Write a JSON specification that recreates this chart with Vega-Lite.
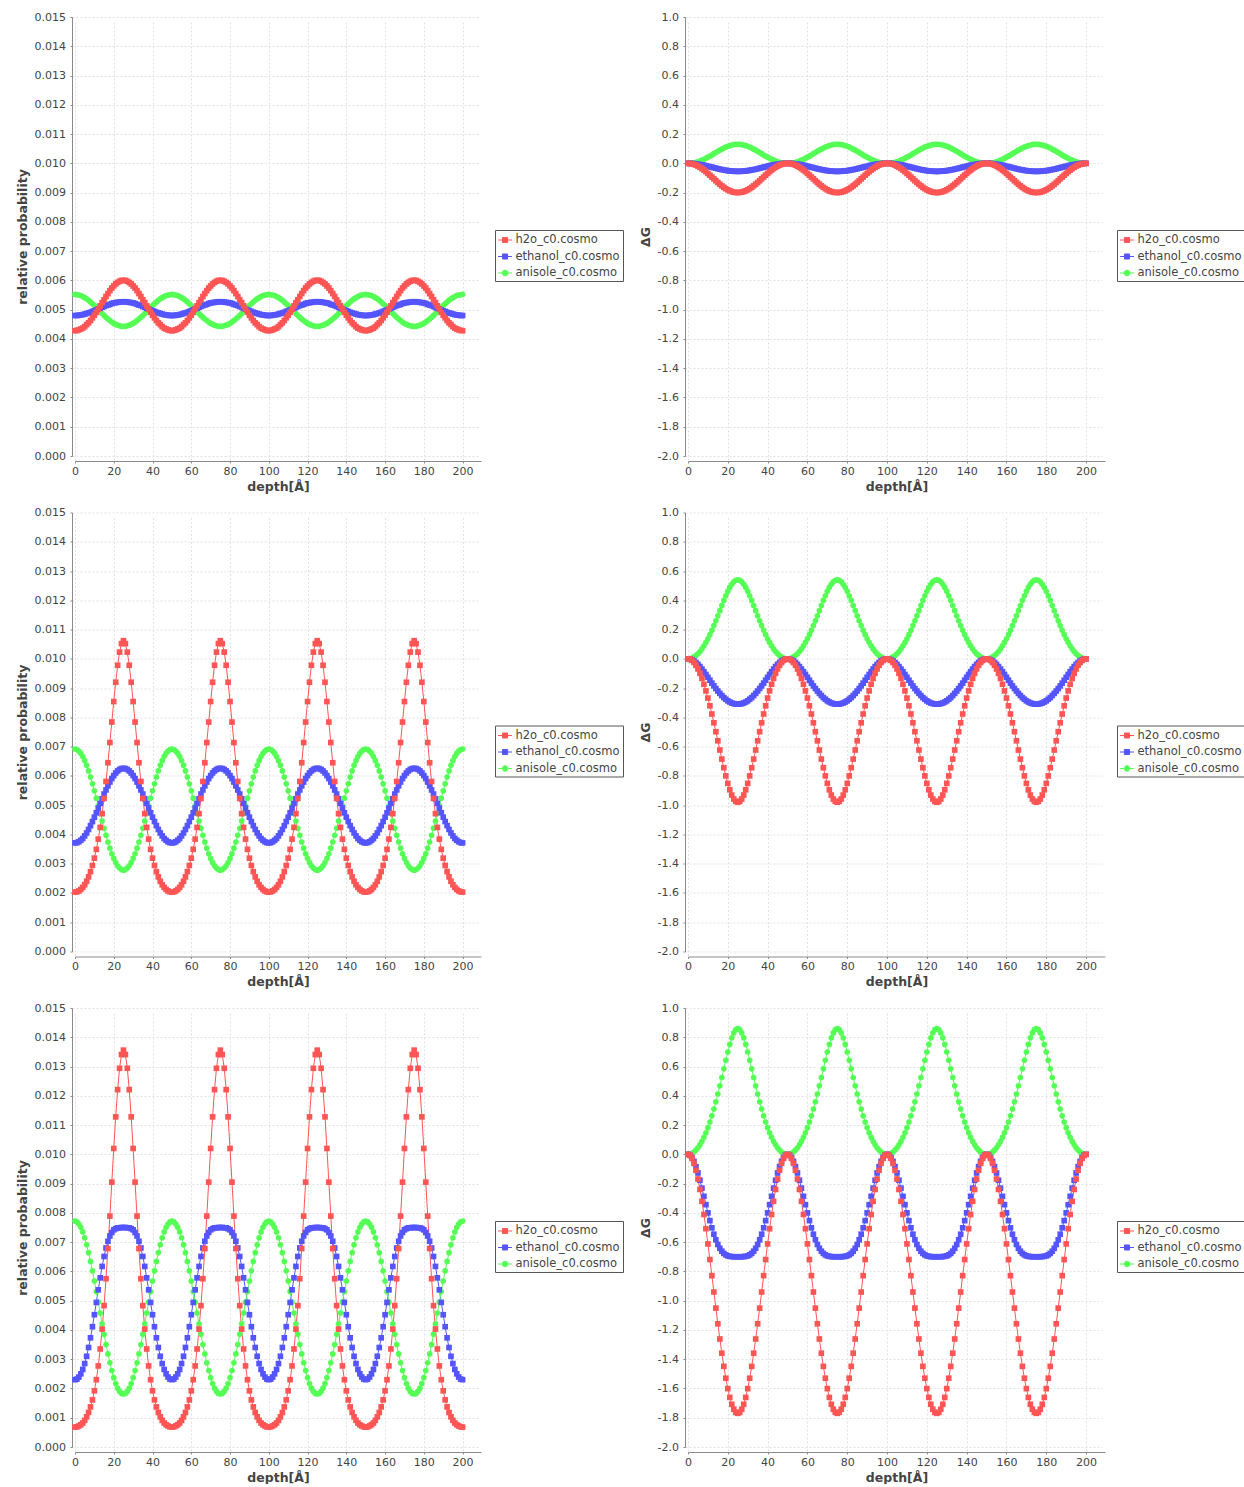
{
"$schema":"https://vega.github.io/schema/vega-lite/v6.json",
"background":"#ffffff",
"padding":{"left":16,"top":11,"right":0,"bottom":0},
"autosize":{"type":"pad"},
"bounds":"flush",
"columns":2,
"spacing":{"row":56.5,"column":207},
"resolve":{"scale":{"color":"independent"},"legend":{"color":"independent"}},
"config":{
"view":{"stroke":null},
"font":"DejaVu Sans",
"axis":{"tickSize":2,"domainColor":"#8a8a8a","tickColor":"#8a8a8a","labelColor":"#444444","labelFont":"DejaVu Sans","labelFontSize":11,"titleFont":"DejaVu Sans","titleFontSize":12.5,"titleFontWeight":"bold","titleColor":"#444444","gridColor":"#e2e2e2","gridDash":[2,2],"gridWidth":1,"labelOverlap":false,"labelFlush":false,"domainWidth":1,"tickWidth":1},
"axisX":{"offset":5,"labelPadding":2,"titlePadding":4},
"axisY":{"offset":3,"labelPadding":4.5,"titlePadding":5},
"legend":{"orient":"none","padding":2.5,"rowPadding":3.5,"symbolSize":196,"labelOffset":3,"labelFont":"DejaVu Sans","labelFontSize":11.5,"labelColor":"#444444","strokeColor":"#555555","fillColor":"#ffffff","labelLimit":400,"symbolStrokeWidth":1}
},
"datasets":{"d":[
{"x":0,"a1":0.00552,"b1":0.0048,"c1":0.00428,"A1":0,"B1":0,"C1":0,"a2":0.00692,"b2":0.00371,"c2":0.00203,"A2":0,"B2":0,"C2":0,"a3":0.00772,"b3":0.0023,"c3":0.00068,"A3":0,"B3":0,"C3":0},
{"x":1,"a1":0.00551,"b1":0.0048,"c1":0.00429,"A1":0,"B1":0,"C1":-0.001,"a2":0.0069,"b2":0.00372,"c2":0.00204,"A2":0.001,"B2":-0.002,"C2":-0.003,"a3":0.00769,"b3":0.00232,"c3":0.00069,"A3":0.002,"B3":-0.006,"C3":-0.007},
{"x":2,"a1":0.0055,"b1":0.00481,"c1":0.00431,"A1":0.002,"B1":-0.001,"C1":-0.003,"a2":0.00685,"b2":0.00375,"c2":0.00207,"A2":0.006,"B2":-0.006,"C2":-0.011,"a3":0.00762,"b3":0.00239,"c3":0.00072,"A3":0.007,"B3":-0.022,"C3":-0.028},
{"x":3,"a1":0.00548,"b1":0.00482,"c1":0.00434,"A1":0.004,"B1":-0.002,"C1":-0.007,"a2":0.00677,"b2":0.0038,"c2":0.00212,"A2":0.013,"B2":-0.014,"C2":-0.025,"a3":0.00751,"b3":0.0025,"c3":0.00076,"A3":0.016,"B3":-0.048,"C3":-0.062},
{"x":4,"a1":0.00545,"b1":0.00483,"c1":0.00437,"A1":0.007,"B1":-0.004,"C1":-0.012,"a2":0.00666,"b2":0.00386,"c2":0.00219,"A2":0.022,"B2":-0.025,"C2":-0.044,"a3":0.00735,"b3":0.00265,"c3":0.00082,"A3":0.029,"B3":-0.084,"C3":-0.109},
{"x":5,"a1":0.00541,"b1":0.00485,"c1":0.00442,"A1":0.011,"B1":-0.006,"C1":-0.019,"a2":0.00652,"b2":0.00395,"c2":0.00228,"A2":0.035,"B2":-0.038,"C2":-0.069,"a3":0.00715,"b3":0.00285,"c3":0.00091,"A3":0.045,"B3":-0.127,"C3":-0.169},
{"x":6,"a1":0.00537,"b1":0.00487,"c1":0.00449,"A1":0.016,"B1":-0.008,"C1":-0.027,"a2":0.00636,"b2":0.00405,"c2":0.0024,"A2":0.05,"B2":-0.053,"C2":-0.099,"a3":0.00691,"b3":0.0031,"c3":0.00103,"A3":0.065,"B3":-0.177,"C3":-0.24},
{"x":7,"a1":0.00532,"b1":0.00489,"c1":0.00455,"A1":0.022,"B1":-0.01,"C1":-0.036,"a2":0.00617,"b2":0.00417,"c2":0.00255,"A2":0.068,"B2":-0.07,"C2":-0.134,"a3":0.00664,"b3":0.0034,"c3":0.00118,"A3":0.089,"B3":-0.231,"C3":-0.321},
{"x":8,"a1":0.00526,"b1":0.00491,"c1":0.00463,"A1":0.028,"B1":-0.013,"C1":-0.046,"a2":0.00596,"b2":0.0043,"c2":0.00273,"A2":0.089,"B2":-0.088,"C2":-0.174,"a3":0.00634,"b3":0.00373,"c3":0.00137,"A3":0.116,"B3":-0.287,"C3":-0.411},
{"x":9,"a1":0.0052,"b1":0.00494,"c1":0.00472,"A1":0.035,"B1":-0.016,"C1":-0.057,"a2":0.00573,"b2":0.00444,"c2":0.00294,"A2":0.112,"B2":-0.107,"C2":-0.219,"a3":0.00602,"b3":0.00411,"c3":0.00161,"A3":0.147,"B3":-0.344,"C3":-0.508},
{"x":10,"a1":0.00514,"b1":0.00496,"c1":0.00481,"A1":0.042,"B1":-0.02,"C1":-0.069,"a2":0.00549,"b2":0.00459,"c2":0.00319,"A2":0.137,"B2":-0.126,"C2":-0.268,"a3":0.00567,"b3":0.00452,"c3":0.00192,"A3":0.182,"B3":-0.4,"C3":-0.612},
{"x":11,"a1":0.00507,"b1":0.00499,"c1":0.00491,"A1":0.049,"B1":-0.023,"C1":-0.081,"a2":0.00524,"b2":0.00474,"c2":0.00349,"A2":0.165,"B2":-0.146,"C2":-0.321,"a3":0.00531,"b3":0.00494,"c3":0.0023,"A3":0.221,"B3":-0.453,"C3":-0.719},
{"x":12,"a1":0.00501,"b1":0.00502,"c1":0.00502,"A1":0.057,"B1":-0.026,"C1":-0.094,"a2":0.00498,"b2":0.0049,"c2":0.00384,"A2":0.195,"B2":-0.166,"C2":-0.377,"a3":0.00495,"b3":0.00537,"c3":0.00277,"A3":0.263,"B3":-0.502,"C3":-0.829},
{"x":13,"a1":0.00494,"b1":0.00505,"c1":0.00513,"A1":0.066,"B1":-0.03,"C1":-0.106,"a2":0.00472,"b2":0.00506,"c2":0.00424,"A2":0.227,"B2":-0.185,"C2":-0.437,"a3":0.00458,"b3":0.00578,"c3":0.00335,"A3":0.31,"B3":-0.546,"C3":-0.941},
{"x":14,"a1":0.00487,"b1":0.00508,"c1":0.00524,"A1":0.074,"B1":-0.033,"C1":-0.119,"a2":0.00446,"b2":0.00522,"c2":0.00471,"A2":0.26,"B2":-0.203,"C2":-0.498,"a3":0.00421,"b3":0.00617,"c3":0.00403,"A3":0.359,"B3":-0.584,"C3":-1.051},
{"x":15,"a1":0.0048,"b1":0.00511,"c1":0.00534,"A1":0.082,"B1":-0.037,"C1":-0.131,"a2":0.00421,"b2":0.00538,"c2":0.00523,"A2":0.294,"B2":-0.22,"C2":-0.56,"a3":0.00385,"b3":0.00651,"c3":0.00483,"A3":0.412,"B3":-0.616,"C3":-1.158},
{"x":16,"a1":0.00474,"b1":0.00514,"c1":0.00545,"A1":0.09,"B1":-0.04,"C1":-0.143,"a2":0.00397,"b2":0.00552,"c2":0.00581,"A2":0.329,"B2":-0.236,"C2":-0.623,"a3":0.0035,"b3":0.0068,"c3":0.00575,"A3":0.468,"B3":-0.642,"C3":-1.262},
{"x":17,"a1":0.00468,"b1":0.00516,"c1":0.00555,"A1":0.097,"B1":-0.043,"C1":-0.154,"a2":0.00374,"b2":0.00566,"c2":0.00645,"A2":0.364,"B2":-0.251,"C2":-0.685,"a3":0.00318,"b3":0.00703,"c3":0.00678,"A3":0.525,"B3":-0.662,"C3":-1.359},
{"x":18,"a1":0.00463,"b1":0.00518,"c1":0.00565,"A1":0.104,"B1":-0.045,"C1":-0.164,"a2":0.00353,"b2":0.00579,"c2":0.00714,"A2":0.399,"B2":-0.265,"C2":-0.744,"a3":0.00288,"b3":0.00721,"c3":0.00789,"A3":0.584,"B3":-0.677,"C3":-1.449},
{"x":19,"a1":0.00458,"b1":0.00521,"c1":0.00574,"A1":0.111,"B1":-0.048,"C1":-0.173,"a2":0.00334,"b2":0.00591,"c2":0.00784,"A2":0.431,"B2":-0.276,"C2":-0.8,"a3":0.00261,"b3":0.00733,"c3":0.00905,"A3":0.643,"B3":-0.687,"C3":-1.53},
{"x":20,"a1":0.00453,"b1":0.00523,"c1":0.00581,"A1":0.116,"B1":-0.05,"C1":-0.181,"a2":0.00318,"b2":0.00601,"c2":0.00854,"A2":0.461,"B2":-0.287,"C2":-0.851,"a3":0.00237,"b3":0.00742,"c3":0.0102,"A3":0.699,"B3":-0.694,"C3":-1.601},
{"x":21,"a1":0.0045,"b1":0.00524,"c1":0.00588,"A1":0.121,"B1":-0.052,"C1":-0.188,"a2":0.00304,"b2":0.0061,"c2":0.0092,"A2":0.488,"B2":-0.295,"C2":-0.895,"a3":0.00217,"b3":0.00746,"c3":0.01128,"A3":0.751,"B3":-0.697,"C3":-1.661},
{"x":22,"a1":0.00447,"b1":0.00525,"c1":0.00593,"A1":0.125,"B1":-0.053,"C1":-0.193,"a2":0.00293,"b2":0.00617,"c2":0.00978,"A2":0.51,"B2":-0.302,"C2":-0.931,"a3":0.00201,"b3":0.00749,"c3":0.01221,"A3":0.796,"B3":-0.699,"C3":-1.708},
{"x":23,"a1":0.00445,"b1":0.00526,"c1":0.00597,"A1":0.128,"B1":-0.054,"C1":-0.197,"a2":0.00285,"b2":0.00622,"c2":0.01023,"A2":0.526,"B2":-0.306,"C2":-0.958,"a3":0.0019,"b3":0.00749,"c3":0.01294,"A3":0.83,"B3":-0.7,"C3":-1.742},
{"x":24,"a1":0.00443,"b1":0.00527,"c1":0.006,"A1":0.13,"B1":-0.055,"C1":-0.199,"a2":0.0028,"b2":0.00625,"c2":0.01052,"A2":0.537,"B2":-0.309,"C2":-0.974,"a3":0.00183,"b3":0.0075,"c3":0.01341,"A3":0.852,"B3":-0.7,"C3":-1.763},
{"x":25,"a1":0.00443,"b1":0.00527,"c1":0.006,"A1":0.13,"B1":-0.055,"C1":-0.2,"a2":0.00278,"b2":0.00626,"c2":0.01062,"A2":0.54,"B2":-0.31,"C2":-0.98,"a3":0.00181,"b3":0.0075,"c3":0.01356,"A3":0.86,"B3":-0.7,"C3":-1.77},
{"x":26,"a1":0.00443,"b1":0.00527,"c1":0.006,"A1":0.13,"B1":-0.055,"C1":-0.199,"a2":0.0028,"b2":0.00625,"c2":0.01052,"A2":0.537,"B2":-0.309,"C2":-0.974,"a3":0.00183,"b3":0.0075,"c3":0.01341,"A3":0.852,"B3":-0.7,"C3":-1.763},
{"x":27,"a1":0.00445,"b1":0.00526,"c1":0.00597,"A1":0.128,"B1":-0.054,"C1":-0.197,"a2":0.00285,"b2":0.00622,"c2":0.01023,"A2":0.526,"B2":-0.306,"C2":-0.958,"a3":0.0019,"b3":0.00749,"c3":0.01294,"A3":0.83,"B3":-0.7,"C3":-1.742},
{"x":28,"a1":0.00447,"b1":0.00525,"c1":0.00593,"A1":0.125,"B1":-0.053,"C1":-0.193,"a2":0.00293,"b2":0.00617,"c2":0.00978,"A2":0.51,"B2":-0.302,"C2":-0.931,"a3":0.00201,"b3":0.00749,"c3":0.01221,"A3":0.796,"B3":-0.699,"C3":-1.708},
{"x":29,"a1":0.0045,"b1":0.00524,"c1":0.00588,"A1":0.121,"B1":-0.052,"C1":-0.188,"a2":0.00304,"b2":0.0061,"c2":0.0092,"A2":0.488,"B2":-0.295,"C2":-0.895,"a3":0.00217,"b3":0.00746,"c3":0.01128,"A3":0.751,"B3":-0.697,"C3":-1.661},
{"x":30,"a1":0.00453,"b1":0.00523,"c1":0.00581,"A1":0.116,"B1":-0.05,"C1":-0.181,"a2":0.00318,"b2":0.00601,"c2":0.00854,"A2":0.461,"B2":-0.287,"C2":-0.851,"a3":0.00237,"b3":0.00742,"c3":0.0102,"A3":0.699,"B3":-0.694,"C3":-1.601},
{"x":31,"a1":0.00458,"b1":0.00521,"c1":0.00574,"A1":0.111,"B1":-0.048,"C1":-0.173,"a2":0.00334,"b2":0.00591,"c2":0.00784,"A2":0.431,"B2":-0.276,"C2":-0.8,"a3":0.00261,"b3":0.00733,"c3":0.00905,"A3":0.643,"B3":-0.687,"C3":-1.53},
{"x":32,"a1":0.00463,"b1":0.00518,"c1":0.00565,"A1":0.104,"B1":-0.045,"C1":-0.164,"a2":0.00353,"b2":0.00579,"c2":0.00714,"A2":0.399,"B2":-0.265,"C2":-0.744,"a3":0.00288,"b3":0.00721,"c3":0.00789,"A3":0.584,"B3":-0.677,"C3":-1.449},
{"x":33,"a1":0.00468,"b1":0.00516,"c1":0.00555,"A1":0.097,"B1":-0.043,"C1":-0.154,"a2":0.00374,"b2":0.00566,"c2":0.00645,"A2":0.364,"B2":-0.251,"C2":-0.685,"a3":0.00318,"b3":0.00703,"c3":0.00678,"A3":0.525,"B3":-0.662,"C3":-1.359},
{"x":34,"a1":0.00474,"b1":0.00514,"c1":0.00545,"A1":0.09,"B1":-0.04,"C1":-0.143,"a2":0.00397,"b2":0.00552,"c2":0.00581,"A2":0.329,"B2":-0.236,"C2":-0.623,"a3":0.0035,"b3":0.0068,"c3":0.00575,"A3":0.468,"B3":-0.642,"C3":-1.262},
{"x":35,"a1":0.0048,"b1":0.00511,"c1":0.00534,"A1":0.082,"B1":-0.037,"C1":-0.131,"a2":0.00421,"b2":0.00538,"c2":0.00523,"A2":0.294,"B2":-0.22,"C2":-0.56,"a3":0.00385,"b3":0.00651,"c3":0.00483,"A3":0.412,"B3":-0.616,"C3":-1.158},
{"x":36,"a1":0.00487,"b1":0.00508,"c1":0.00524,"A1":0.074,"B1":-0.033,"C1":-0.119,"a2":0.00446,"b2":0.00522,"c2":0.00471,"A2":0.26,"B2":-0.203,"C2":-0.498,"a3":0.00421,"b3":0.00617,"c3":0.00403,"A3":0.359,"B3":-0.584,"C3":-1.051},
{"x":37,"a1":0.00494,"b1":0.00505,"c1":0.00513,"A1":0.066,"B1":-0.03,"C1":-0.106,"a2":0.00472,"b2":0.00506,"c2":0.00424,"A2":0.227,"B2":-0.185,"C2":-0.437,"a3":0.00458,"b3":0.00578,"c3":0.00335,"A3":0.31,"B3":-0.546,"C3":-0.941},
{"x":38,"a1":0.00501,"b1":0.00502,"c1":0.00502,"A1":0.057,"B1":-0.026,"C1":-0.094,"a2":0.00498,"b2":0.0049,"c2":0.00384,"A2":0.195,"B2":-0.166,"C2":-0.377,"a3":0.00495,"b3":0.00537,"c3":0.00277,"A3":0.263,"B3":-0.502,"C3":-0.829},
{"x":39,"a1":0.00507,"b1":0.00499,"c1":0.00491,"A1":0.049,"B1":-0.023,"C1":-0.081,"a2":0.00524,"b2":0.00474,"c2":0.00349,"A2":0.165,"B2":-0.146,"C2":-0.321,"a3":0.00531,"b3":0.00494,"c3":0.0023,"A3":0.221,"B3":-0.453,"C3":-0.719},
{"x":40,"a1":0.00514,"b1":0.00496,"c1":0.00481,"A1":0.042,"B1":-0.02,"C1":-0.069,"a2":0.00549,"b2":0.00459,"c2":0.00319,"A2":0.137,"B2":-0.126,"C2":-0.268,"a3":0.00567,"b3":0.00452,"c3":0.00192,"A3":0.182,"B3":-0.4,"C3":-0.612},
{"x":41,"a1":0.0052,"b1":0.00494,"c1":0.00472,"A1":0.035,"B1":-0.016,"C1":-0.057,"a2":0.00573,"b2":0.00444,"c2":0.00294,"A2":0.112,"B2":-0.107,"C2":-0.219,"a3":0.00602,"b3":0.00411,"c3":0.00161,"A3":0.147,"B3":-0.344,"C3":-0.508},
{"x":42,"a1":0.00526,"b1":0.00491,"c1":0.00463,"A1":0.028,"B1":-0.013,"C1":-0.046,"a2":0.00596,"b2":0.0043,"c2":0.00273,"A2":0.089,"B2":-0.088,"C2":-0.174,"a3":0.00634,"b3":0.00373,"c3":0.00137,"A3":0.116,"B3":-0.287,"C3":-0.411},
{"x":43,"a1":0.00532,"b1":0.00489,"c1":0.00455,"A1":0.022,"B1":-0.01,"C1":-0.036,"a2":0.00617,"b2":0.00417,"c2":0.00255,"A2":0.068,"B2":-0.07,"C2":-0.134,"a3":0.00664,"b3":0.0034,"c3":0.00118,"A3":0.089,"B3":-0.231,"C3":-0.321},
{"x":44,"a1":0.00537,"b1":0.00487,"c1":0.00449,"A1":0.016,"B1":-0.008,"C1":-0.027,"a2":0.00636,"b2":0.00405,"c2":0.0024,"A2":0.05,"B2":-0.053,"C2":-0.099,"a3":0.00691,"b3":0.0031,"c3":0.00103,"A3":0.065,"B3":-0.177,"C3":-0.24},
{"x":45,"a1":0.00541,"b1":0.00485,"c1":0.00442,"A1":0.011,"B1":-0.006,"C1":-0.019,"a2":0.00652,"b2":0.00395,"c2":0.00228,"A2":0.035,"B2":-0.038,"C2":-0.069,"a3":0.00715,"b3":0.00285,"c3":0.00091,"A3":0.045,"B3":-0.127,"C3":-0.169},
{"x":46,"a1":0.00545,"b1":0.00483,"c1":0.00437,"A1":0.007,"B1":-0.004,"C1":-0.012,"a2":0.00666,"b2":0.00386,"c2":0.00219,"A2":0.022,"B2":-0.025,"C2":-0.044,"a3":0.00735,"b3":0.00265,"c3":0.00082,"A3":0.029,"B3":-0.084,"C3":-0.109},
{"x":47,"a1":0.00548,"b1":0.00482,"c1":0.00434,"A1":0.004,"B1":-0.002,"C1":-0.007,"a2":0.00677,"b2":0.0038,"c2":0.00212,"A2":0.013,"B2":-0.014,"C2":-0.025,"a3":0.00751,"b3":0.0025,"c3":0.00076,"A3":0.016,"B3":-0.048,"C3":-0.062},
{"x":48,"a1":0.0055,"b1":0.00481,"c1":0.00431,"A1":0.002,"B1":-0.001,"C1":-0.003,"a2":0.00685,"b2":0.00375,"c2":0.00207,"A2":0.006,"B2":-0.006,"C2":-0.011,"a3":0.00762,"b3":0.00239,"c3":0.00072,"A3":0.007,"B3":-0.022,"C3":-0.028},
{"x":49,"a1":0.00551,"b1":0.0048,"c1":0.00429,"A1":0,"B1":0,"C1":-0.001,"a2":0.0069,"b2":0.00372,"c2":0.00204,"A2":0.001,"B2":-0.002,"C2":-0.003,"a3":0.00769,"b3":0.00232,"c3":0.00069,"A3":0.002,"B3":-0.006,"C3":-0.007},
{"x":50,"a1":0.00552,"b1":0.0048,"c1":0.00428,"A1":0,"B1":0,"C1":0,"a2":0.00692,"b2":0.00371,"c2":0.00203,"A2":0,"B2":0,"C2":0,"a3":0.00772,"b3":0.0023,"c3":0.00068,"A3":0,"B3":0,"C3":0},
{"x":51,"a1":0.00551,"b1":0.0048,"c1":0.00429,"A1":0,"B1":0,"C1":-0.001,"a2":0.0069,"b2":0.00372,"c2":0.00204,"A2":0.001,"B2":-0.002,"C2":-0.003,"a3":0.00769,"b3":0.00232,"c3":0.00069,"A3":0.002,"B3":-0.006,"C3":-0.007},
{"x":52,"a1":0.0055,"b1":0.00481,"c1":0.00431,"A1":0.002,"B1":-0.001,"C1":-0.003,"a2":0.00685,"b2":0.00375,"c2":0.00207,"A2":0.006,"B2":-0.006,"C2":-0.011,"a3":0.00762,"b3":0.00239,"c3":0.00072,"A3":0.007,"B3":-0.022,"C3":-0.028},
{"x":53,"a1":0.00548,"b1":0.00482,"c1":0.00434,"A1":0.004,"B1":-0.002,"C1":-0.007,"a2":0.00677,"b2":0.0038,"c2":0.00212,"A2":0.013,"B2":-0.014,"C2":-0.025,"a3":0.00751,"b3":0.0025,"c3":0.00076,"A3":0.016,"B3":-0.048,"C3":-0.062},
{"x":54,"a1":0.00545,"b1":0.00483,"c1":0.00437,"A1":0.007,"B1":-0.004,"C1":-0.012,"a2":0.00666,"b2":0.00386,"c2":0.00219,"A2":0.022,"B2":-0.025,"C2":-0.044,"a3":0.00735,"b3":0.00265,"c3":0.00082,"A3":0.029,"B3":-0.084,"C3":-0.109},
{"x":55,"a1":0.00541,"b1":0.00485,"c1":0.00442,"A1":0.011,"B1":-0.006,"C1":-0.019,"a2":0.00652,"b2":0.00395,"c2":0.00228,"A2":0.035,"B2":-0.038,"C2":-0.069,"a3":0.00715,"b3":0.00285,"c3":0.00091,"A3":0.045,"B3":-0.127,"C3":-0.169},
{"x":56,"a1":0.00537,"b1":0.00487,"c1":0.00449,"A1":0.016,"B1":-0.008,"C1":-0.027,"a2":0.00636,"b2":0.00405,"c2":0.0024,"A2":0.05,"B2":-0.053,"C2":-0.099,"a3":0.00691,"b3":0.0031,"c3":0.00103,"A3":0.065,"B3":-0.177,"C3":-0.24},
{"x":57,"a1":0.00532,"b1":0.00489,"c1":0.00455,"A1":0.022,"B1":-0.01,"C1":-0.036,"a2":0.00617,"b2":0.00417,"c2":0.00255,"A2":0.068,"B2":-0.07,"C2":-0.134,"a3":0.00664,"b3":0.0034,"c3":0.00118,"A3":0.089,"B3":-0.231,"C3":-0.321},
{"x":58,"a1":0.00526,"b1":0.00491,"c1":0.00463,"A1":0.028,"B1":-0.013,"C1":-0.046,"a2":0.00596,"b2":0.0043,"c2":0.00273,"A2":0.089,"B2":-0.088,"C2":-0.174,"a3":0.00634,"b3":0.00373,"c3":0.00137,"A3":0.116,"B3":-0.287,"C3":-0.411},
{"x":59,"a1":0.0052,"b1":0.00494,"c1":0.00472,"A1":0.035,"B1":-0.016,"C1":-0.057,"a2":0.00573,"b2":0.00444,"c2":0.00294,"A2":0.112,"B2":-0.107,"C2":-0.219,"a3":0.00602,"b3":0.00411,"c3":0.00161,"A3":0.147,"B3":-0.344,"C3":-0.508},
{"x":60,"a1":0.00514,"b1":0.00496,"c1":0.00481,"A1":0.042,"B1":-0.02,"C1":-0.069,"a2":0.00549,"b2":0.00459,"c2":0.00319,"A2":0.137,"B2":-0.126,"C2":-0.268,"a3":0.00567,"b3":0.00452,"c3":0.00192,"A3":0.182,"B3":-0.4,"C3":-0.612},
{"x":61,"a1":0.00507,"b1":0.00499,"c1":0.00491,"A1":0.049,"B1":-0.023,"C1":-0.081,"a2":0.00524,"b2":0.00474,"c2":0.00349,"A2":0.165,"B2":-0.146,"C2":-0.321,"a3":0.00531,"b3":0.00494,"c3":0.0023,"A3":0.221,"B3":-0.453,"C3":-0.719},
{"x":62,"a1":0.00501,"b1":0.00502,"c1":0.00502,"A1":0.057,"B1":-0.026,"C1":-0.094,"a2":0.00498,"b2":0.0049,"c2":0.00384,"A2":0.195,"B2":-0.166,"C2":-0.377,"a3":0.00495,"b3":0.00537,"c3":0.00277,"A3":0.263,"B3":-0.502,"C3":-0.829},
{"x":63,"a1":0.00494,"b1":0.00505,"c1":0.00513,"A1":0.066,"B1":-0.03,"C1":-0.106,"a2":0.00472,"b2":0.00506,"c2":0.00424,"A2":0.227,"B2":-0.185,"C2":-0.437,"a3":0.00458,"b3":0.00578,"c3":0.00335,"A3":0.31,"B3":-0.546,"C3":-0.941},
{"x":64,"a1":0.00487,"b1":0.00508,"c1":0.00524,"A1":0.074,"B1":-0.033,"C1":-0.119,"a2":0.00446,"b2":0.00522,"c2":0.00471,"A2":0.26,"B2":-0.203,"C2":-0.498,"a3":0.00421,"b3":0.00617,"c3":0.00403,"A3":0.359,"B3":-0.584,"C3":-1.051},
{"x":65,"a1":0.0048,"b1":0.00511,"c1":0.00534,"A1":0.082,"B1":-0.037,"C1":-0.131,"a2":0.00421,"b2":0.00538,"c2":0.00523,"A2":0.294,"B2":-0.22,"C2":-0.56,"a3":0.00385,"b3":0.00651,"c3":0.00483,"A3":0.412,"B3":-0.616,"C3":-1.158},
{"x":66,"a1":0.00474,"b1":0.00514,"c1":0.00545,"A1":0.09,"B1":-0.04,"C1":-0.143,"a2":0.00397,"b2":0.00552,"c2":0.00581,"A2":0.329,"B2":-0.236,"C2":-0.623,"a3":0.0035,"b3":0.0068,"c3":0.00575,"A3":0.468,"B3":-0.642,"C3":-1.262},
{"x":67,"a1":0.00468,"b1":0.00516,"c1":0.00555,"A1":0.097,"B1":-0.043,"C1":-0.154,"a2":0.00374,"b2":0.00566,"c2":0.00645,"A2":0.364,"B2":-0.251,"C2":-0.685,"a3":0.00318,"b3":0.00703,"c3":0.00678,"A3":0.525,"B3":-0.662,"C3":-1.359},
{"x":68,"a1":0.00463,"b1":0.00518,"c1":0.00565,"A1":0.104,"B1":-0.045,"C1":-0.164,"a2":0.00353,"b2":0.00579,"c2":0.00714,"A2":0.399,"B2":-0.265,"C2":-0.744,"a3":0.00288,"b3":0.00721,"c3":0.00789,"A3":0.584,"B3":-0.677,"C3":-1.449},
{"x":69,"a1":0.00458,"b1":0.00521,"c1":0.00574,"A1":0.111,"B1":-0.048,"C1":-0.173,"a2":0.00334,"b2":0.00591,"c2":0.00784,"A2":0.431,"B2":-0.276,"C2":-0.8,"a3":0.00261,"b3":0.00733,"c3":0.00905,"A3":0.643,"B3":-0.687,"C3":-1.53},
{"x":70,"a1":0.00453,"b1":0.00523,"c1":0.00581,"A1":0.116,"B1":-0.05,"C1":-0.181,"a2":0.00318,"b2":0.00601,"c2":0.00854,"A2":0.461,"B2":-0.287,"C2":-0.851,"a3":0.00237,"b3":0.00742,"c3":0.0102,"A3":0.699,"B3":-0.694,"C3":-1.601},
{"x":71,"a1":0.0045,"b1":0.00524,"c1":0.00588,"A1":0.121,"B1":-0.052,"C1":-0.188,"a2":0.00304,"b2":0.0061,"c2":0.0092,"A2":0.488,"B2":-0.295,"C2":-0.895,"a3":0.00217,"b3":0.00746,"c3":0.01128,"A3":0.751,"B3":-0.697,"C3":-1.661},
{"x":72,"a1":0.00447,"b1":0.00525,"c1":0.00593,"A1":0.125,"B1":-0.053,"C1":-0.193,"a2":0.00293,"b2":0.00617,"c2":0.00978,"A2":0.51,"B2":-0.302,"C2":-0.931,"a3":0.00201,"b3":0.00749,"c3":0.01221,"A3":0.796,"B3":-0.699,"C3":-1.708},
{"x":73,"a1":0.00445,"b1":0.00526,"c1":0.00597,"A1":0.128,"B1":-0.054,"C1":-0.197,"a2":0.00285,"b2":0.00622,"c2":0.01023,"A2":0.526,"B2":-0.306,"C2":-0.958,"a3":0.0019,"b3":0.00749,"c3":0.01294,"A3":0.83,"B3":-0.7,"C3":-1.742},
{"x":74,"a1":0.00443,"b1":0.00527,"c1":0.006,"A1":0.13,"B1":-0.055,"C1":-0.199,"a2":0.0028,"b2":0.00625,"c2":0.01052,"A2":0.537,"B2":-0.309,"C2":-0.974,"a3":0.00183,"b3":0.0075,"c3":0.01341,"A3":0.852,"B3":-0.7,"C3":-1.763},
{"x":75,"a1":0.00443,"b1":0.00527,"c1":0.006,"A1":0.13,"B1":-0.055,"C1":-0.2,"a2":0.00278,"b2":0.00626,"c2":0.01062,"A2":0.54,"B2":-0.31,"C2":-0.98,"a3":0.00181,"b3":0.0075,"c3":0.01356,"A3":0.86,"B3":-0.7,"C3":-1.77},
{"x":76,"a1":0.00443,"b1":0.00527,"c1":0.006,"A1":0.13,"B1":-0.055,"C1":-0.199,"a2":0.0028,"b2":0.00625,"c2":0.01052,"A2":0.537,"B2":-0.309,"C2":-0.974,"a3":0.00183,"b3":0.0075,"c3":0.01341,"A3":0.852,"B3":-0.7,"C3":-1.763},
{"x":77,"a1":0.00445,"b1":0.00526,"c1":0.00597,"A1":0.128,"B1":-0.054,"C1":-0.197,"a2":0.00285,"b2":0.00622,"c2":0.01023,"A2":0.526,"B2":-0.306,"C2":-0.958,"a3":0.0019,"b3":0.00749,"c3":0.01294,"A3":0.83,"B3":-0.7,"C3":-1.742},
{"x":78,"a1":0.00447,"b1":0.00525,"c1":0.00593,"A1":0.125,"B1":-0.053,"C1":-0.193,"a2":0.00293,"b2":0.00617,"c2":0.00978,"A2":0.51,"B2":-0.302,"C2":-0.931,"a3":0.00201,"b3":0.00749,"c3":0.01221,"A3":0.796,"B3":-0.699,"C3":-1.708},
{"x":79,"a1":0.0045,"b1":0.00524,"c1":0.00588,"A1":0.121,"B1":-0.052,"C1":-0.188,"a2":0.00304,"b2":0.0061,"c2":0.0092,"A2":0.488,"B2":-0.295,"C2":-0.895,"a3":0.00217,"b3":0.00746,"c3":0.01128,"A3":0.751,"B3":-0.697,"C3":-1.661},
{"x":80,"a1":0.00453,"b1":0.00523,"c1":0.00581,"A1":0.116,"B1":-0.05,"C1":-0.181,"a2":0.00318,"b2":0.00601,"c2":0.00854,"A2":0.461,"B2":-0.287,"C2":-0.851,"a3":0.00237,"b3":0.00742,"c3":0.0102,"A3":0.699,"B3":-0.694,"C3":-1.601},
{"x":81,"a1":0.00458,"b1":0.00521,"c1":0.00574,"A1":0.111,"B1":-0.048,"C1":-0.173,"a2":0.00334,"b2":0.00591,"c2":0.00784,"A2":0.431,"B2":-0.276,"C2":-0.8,"a3":0.00261,"b3":0.00733,"c3":0.00905,"A3":0.643,"B3":-0.687,"C3":-1.53},
{"x":82,"a1":0.00463,"b1":0.00518,"c1":0.00565,"A1":0.104,"B1":-0.045,"C1":-0.164,"a2":0.00353,"b2":0.00579,"c2":0.00714,"A2":0.399,"B2":-0.265,"C2":-0.744,"a3":0.00288,"b3":0.00721,"c3":0.00789,"A3":0.584,"B3":-0.677,"C3":-1.449},
{"x":83,"a1":0.00468,"b1":0.00516,"c1":0.00555,"A1":0.097,"B1":-0.043,"C1":-0.154,"a2":0.00374,"b2":0.00566,"c2":0.00645,"A2":0.364,"B2":-0.251,"C2":-0.685,"a3":0.00318,"b3":0.00703,"c3":0.00678,"A3":0.525,"B3":-0.662,"C3":-1.359},
{"x":84,"a1":0.00474,"b1":0.00514,"c1":0.00545,"A1":0.09,"B1":-0.04,"C1":-0.143,"a2":0.00397,"b2":0.00552,"c2":0.00581,"A2":0.329,"B2":-0.236,"C2":-0.623,"a3":0.0035,"b3":0.0068,"c3":0.00575,"A3":0.468,"B3":-0.642,"C3":-1.262},
{"x":85,"a1":0.0048,"b1":0.00511,"c1":0.00534,"A1":0.082,"B1":-0.037,"C1":-0.131,"a2":0.00421,"b2":0.00538,"c2":0.00523,"A2":0.294,"B2":-0.22,"C2":-0.56,"a3":0.00385,"b3":0.00651,"c3":0.00483,"A3":0.412,"B3":-0.616,"C3":-1.158},
{"x":86,"a1":0.00487,"b1":0.00508,"c1":0.00524,"A1":0.074,"B1":-0.033,"C1":-0.119,"a2":0.00446,"b2":0.00522,"c2":0.00471,"A2":0.26,"B2":-0.203,"C2":-0.498,"a3":0.00421,"b3":0.00617,"c3":0.00403,"A3":0.359,"B3":-0.584,"C3":-1.051},
{"x":87,"a1":0.00494,"b1":0.00505,"c1":0.00513,"A1":0.066,"B1":-0.03,"C1":-0.106,"a2":0.00472,"b2":0.00506,"c2":0.00424,"A2":0.227,"B2":-0.185,"C2":-0.437,"a3":0.00458,"b3":0.00578,"c3":0.00335,"A3":0.31,"B3":-0.546,"C3":-0.941},
{"x":88,"a1":0.00501,"b1":0.00502,"c1":0.00502,"A1":0.057,"B1":-0.026,"C1":-0.094,"a2":0.00498,"b2":0.0049,"c2":0.00384,"A2":0.195,"B2":-0.166,"C2":-0.377,"a3":0.00495,"b3":0.00537,"c3":0.00277,"A3":0.263,"B3":-0.502,"C3":-0.829},
{"x":89,"a1":0.00507,"b1":0.00499,"c1":0.00491,"A1":0.049,"B1":-0.023,"C1":-0.081,"a2":0.00524,"b2":0.00474,"c2":0.00349,"A2":0.165,"B2":-0.146,"C2":-0.321,"a3":0.00531,"b3":0.00494,"c3":0.0023,"A3":0.221,"B3":-0.453,"C3":-0.719},
{"x":90,"a1":0.00514,"b1":0.00496,"c1":0.00481,"A1":0.042,"B1":-0.02,"C1":-0.069,"a2":0.00549,"b2":0.00459,"c2":0.00319,"A2":0.137,"B2":-0.126,"C2":-0.268,"a3":0.00567,"b3":0.00452,"c3":0.00192,"A3":0.182,"B3":-0.4,"C3":-0.612},
{"x":91,"a1":0.0052,"b1":0.00494,"c1":0.00472,"A1":0.035,"B1":-0.016,"C1":-0.057,"a2":0.00573,"b2":0.00444,"c2":0.00294,"A2":0.112,"B2":-0.107,"C2":-0.219,"a3":0.00602,"b3":0.00411,"c3":0.00161,"A3":0.147,"B3":-0.344,"C3":-0.508},
{"x":92,"a1":0.00526,"b1":0.00491,"c1":0.00463,"A1":0.028,"B1":-0.013,"C1":-0.046,"a2":0.00596,"b2":0.0043,"c2":0.00273,"A2":0.089,"B2":-0.088,"C2":-0.174,"a3":0.00634,"b3":0.00373,"c3":0.00137,"A3":0.116,"B3":-0.287,"C3":-0.411},
{"x":93,"a1":0.00532,"b1":0.00489,"c1":0.00455,"A1":0.022,"B1":-0.01,"C1":-0.036,"a2":0.00617,"b2":0.00417,"c2":0.00255,"A2":0.068,"B2":-0.07,"C2":-0.134,"a3":0.00664,"b3":0.0034,"c3":0.00118,"A3":0.089,"B3":-0.231,"C3":-0.321},
{"x":94,"a1":0.00537,"b1":0.00487,"c1":0.00449,"A1":0.016,"B1":-0.008,"C1":-0.027,"a2":0.00636,"b2":0.00405,"c2":0.0024,"A2":0.05,"B2":-0.053,"C2":-0.099,"a3":0.00691,"b3":0.0031,"c3":0.00103,"A3":0.065,"B3":-0.177,"C3":-0.24},
{"x":95,"a1":0.00541,"b1":0.00485,"c1":0.00442,"A1":0.011,"B1":-0.006,"C1":-0.019,"a2":0.00652,"b2":0.00395,"c2":0.00228,"A2":0.035,"B2":-0.038,"C2":-0.069,"a3":0.00715,"b3":0.00285,"c3":0.00091,"A3":0.045,"B3":-0.127,"C3":-0.169},
{"x":96,"a1":0.00545,"b1":0.00483,"c1":0.00437,"A1":0.007,"B1":-0.004,"C1":-0.012,"a2":0.00666,"b2":0.00386,"c2":0.00219,"A2":0.022,"B2":-0.025,"C2":-0.044,"a3":0.00735,"b3":0.00265,"c3":0.00082,"A3":0.029,"B3":-0.084,"C3":-0.109},
{"x":97,"a1":0.00548,"b1":0.00482,"c1":0.00434,"A1":0.004,"B1":-0.002,"C1":-0.007,"a2":0.00677,"b2":0.0038,"c2":0.00212,"A2":0.013,"B2":-0.014,"C2":-0.025,"a3":0.00751,"b3":0.0025,"c3":0.00076,"A3":0.016,"B3":-0.048,"C3":-0.062},
{"x":98,"a1":0.0055,"b1":0.00481,"c1":0.00431,"A1":0.002,"B1":-0.001,"C1":-0.003,"a2":0.00685,"b2":0.00375,"c2":0.00207,"A2":0.006,"B2":-0.006,"C2":-0.011,"a3":0.00762,"b3":0.00239,"c3":0.00072,"A3":0.007,"B3":-0.022,"C3":-0.028},
{"x":99,"a1":0.00551,"b1":0.0048,"c1":0.00429,"A1":0,"B1":0,"C1":-0.001,"a2":0.0069,"b2":0.00372,"c2":0.00204,"A2":0.001,"B2":-0.002,"C2":-0.003,"a3":0.00769,"b3":0.00232,"c3":0.00069,"A3":0.002,"B3":-0.006,"C3":-0.007},
{"x":100,"a1":0.00552,"b1":0.0048,"c1":0.00428,"A1":0,"B1":0,"C1":0,"a2":0.00692,"b2":0.00371,"c2":0.00203,"A2":0,"B2":0,"C2":0,"a3":0.00772,"b3":0.0023,"c3":0.00068,"A3":0,"B3":0,"C3":0},
{"x":101,"a1":0.00551,"b1":0.0048,"c1":0.00429,"A1":0,"B1":0,"C1":-0.001,"a2":0.0069,"b2":0.00372,"c2":0.00204,"A2":0.001,"B2":-0.002,"C2":-0.003,"a3":0.00769,"b3":0.00232,"c3":0.00069,"A3":0.002,"B3":-0.006,"C3":-0.007},
{"x":102,"a1":0.0055,"b1":0.00481,"c1":0.00431,"A1":0.002,"B1":-0.001,"C1":-0.003,"a2":0.00685,"b2":0.00375,"c2":0.00207,"A2":0.006,"B2":-0.006,"C2":-0.011,"a3":0.00762,"b3":0.00239,"c3":0.00072,"A3":0.007,"B3":-0.022,"C3":-0.028},
{"x":103,"a1":0.00548,"b1":0.00482,"c1":0.00434,"A1":0.004,"B1":-0.002,"C1":-0.007,"a2":0.00677,"b2":0.0038,"c2":0.00212,"A2":0.013,"B2":-0.014,"C2":-0.025,"a3":0.00751,"b3":0.0025,"c3":0.00076,"A3":0.016,"B3":-0.048,"C3":-0.062},
{"x":104,"a1":0.00545,"b1":0.00483,"c1":0.00437,"A1":0.007,"B1":-0.004,"C1":-0.012,"a2":0.00666,"b2":0.00386,"c2":0.00219,"A2":0.022,"B2":-0.025,"C2":-0.044,"a3":0.00735,"b3":0.00265,"c3":0.00082,"A3":0.029,"B3":-0.084,"C3":-0.109},
{"x":105,"a1":0.00541,"b1":0.00485,"c1":0.00442,"A1":0.011,"B1":-0.006,"C1":-0.019,"a2":0.00652,"b2":0.00395,"c2":0.00228,"A2":0.035,"B2":-0.038,"C2":-0.069,"a3":0.00715,"b3":0.00285,"c3":0.00091,"A3":0.045,"B3":-0.127,"C3":-0.169},
{"x":106,"a1":0.00537,"b1":0.00487,"c1":0.00449,"A1":0.016,"B1":-0.008,"C1":-0.027,"a2":0.00636,"b2":0.00405,"c2":0.0024,"A2":0.05,"B2":-0.053,"C2":-0.099,"a3":0.00691,"b3":0.0031,"c3":0.00103,"A3":0.065,"B3":-0.177,"C3":-0.24},
{"x":107,"a1":0.00532,"b1":0.00489,"c1":0.00455,"A1":0.022,"B1":-0.01,"C1":-0.036,"a2":0.00617,"b2":0.00417,"c2":0.00255,"A2":0.068,"B2":-0.07,"C2":-0.134,"a3":0.00664,"b3":0.0034,"c3":0.00118,"A3":0.089,"B3":-0.231,"C3":-0.321},
{"x":108,"a1":0.00526,"b1":0.00491,"c1":0.00463,"A1":0.028,"B1":-0.013,"C1":-0.046,"a2":0.00596,"b2":0.0043,"c2":0.00273,"A2":0.089,"B2":-0.088,"C2":-0.174,"a3":0.00634,"b3":0.00373,"c3":0.00137,"A3":0.116,"B3":-0.287,"C3":-0.411},
{"x":109,"a1":0.0052,"b1":0.00494,"c1":0.00472,"A1":0.035,"B1":-0.016,"C1":-0.057,"a2":0.00573,"b2":0.00444,"c2":0.00294,"A2":0.112,"B2":-0.107,"C2":-0.219,"a3":0.00602,"b3":0.00411,"c3":0.00161,"A3":0.147,"B3":-0.344,"C3":-0.508},
{"x":110,"a1":0.00514,"b1":0.00496,"c1":0.00481,"A1":0.042,"B1":-0.02,"C1":-0.069,"a2":0.00549,"b2":0.00459,"c2":0.00319,"A2":0.137,"B2":-0.126,"C2":-0.268,"a3":0.00567,"b3":0.00452,"c3":0.00192,"A3":0.182,"B3":-0.4,"C3":-0.612},
{"x":111,"a1":0.00507,"b1":0.00499,"c1":0.00491,"A1":0.049,"B1":-0.023,"C1":-0.081,"a2":0.00524,"b2":0.00474,"c2":0.00349,"A2":0.165,"B2":-0.146,"C2":-0.321,"a3":0.00531,"b3":0.00494,"c3":0.0023,"A3":0.221,"B3":-0.453,"C3":-0.719},
{"x":112,"a1":0.00501,"b1":0.00502,"c1":0.00502,"A1":0.057,"B1":-0.026,"C1":-0.094,"a2":0.00498,"b2":0.0049,"c2":0.00384,"A2":0.195,"B2":-0.166,"C2":-0.377,"a3":0.00495,"b3":0.00537,"c3":0.00277,"A3":0.263,"B3":-0.502,"C3":-0.829},
{"x":113,"a1":0.00494,"b1":0.00505,"c1":0.00513,"A1":0.066,"B1":-0.03,"C1":-0.106,"a2":0.00472,"b2":0.00506,"c2":0.00424,"A2":0.227,"B2":-0.185,"C2":-0.437,"a3":0.00458,"b3":0.00578,"c3":0.00335,"A3":0.31,"B3":-0.546,"C3":-0.941},
{"x":114,"a1":0.00487,"b1":0.00508,"c1":0.00524,"A1":0.074,"B1":-0.033,"C1":-0.119,"a2":0.00446,"b2":0.00522,"c2":0.00471,"A2":0.26,"B2":-0.203,"C2":-0.498,"a3":0.00421,"b3":0.00617,"c3":0.00403,"A3":0.359,"B3":-0.584,"C3":-1.051},
{"x":115,"a1":0.0048,"b1":0.00511,"c1":0.00534,"A1":0.082,"B1":-0.037,"C1":-0.131,"a2":0.00421,"b2":0.00538,"c2":0.00523,"A2":0.294,"B2":-0.22,"C2":-0.56,"a3":0.00385,"b3":0.00651,"c3":0.00483,"A3":0.412,"B3":-0.616,"C3":-1.158},
{"x":116,"a1":0.00474,"b1":0.00514,"c1":0.00545,"A1":0.09,"B1":-0.04,"C1":-0.143,"a2":0.00397,"b2":0.00552,"c2":0.00581,"A2":0.329,"B2":-0.236,"C2":-0.623,"a3":0.0035,"b3":0.0068,"c3":0.00575,"A3":0.468,"B3":-0.642,"C3":-1.262},
{"x":117,"a1":0.00468,"b1":0.00516,"c1":0.00555,"A1":0.097,"B1":-0.043,"C1":-0.154,"a2":0.00374,"b2":0.00566,"c2":0.00645,"A2":0.364,"B2":-0.251,"C2":-0.685,"a3":0.00318,"b3":0.00703,"c3":0.00678,"A3":0.525,"B3":-0.662,"C3":-1.359},
{"x":118,"a1":0.00463,"b1":0.00518,"c1":0.00565,"A1":0.104,"B1":-0.045,"C1":-0.164,"a2":0.00353,"b2":0.00579,"c2":0.00714,"A2":0.399,"B2":-0.265,"C2":-0.744,"a3":0.00288,"b3":0.00721,"c3":0.00789,"A3":0.584,"B3":-0.677,"C3":-1.449},
{"x":119,"a1":0.00458,"b1":0.00521,"c1":0.00574,"A1":0.111,"B1":-0.048,"C1":-0.173,"a2":0.00334,"b2":0.00591,"c2":0.00784,"A2":0.431,"B2":-0.276,"C2":-0.8,"a3":0.00261,"b3":0.00733,"c3":0.00905,"A3":0.643,"B3":-0.687,"C3":-1.53},
{"x":120,"a1":0.00453,"b1":0.00523,"c1":0.00581,"A1":0.116,"B1":-0.05,"C1":-0.181,"a2":0.00318,"b2":0.00601,"c2":0.00854,"A2":0.461,"B2":-0.287,"C2":-0.851,"a3":0.00237,"b3":0.00742,"c3":0.0102,"A3":0.699,"B3":-0.694,"C3":-1.601},
{"x":121,"a1":0.0045,"b1":0.00524,"c1":0.00588,"A1":0.121,"B1":-0.052,"C1":-0.188,"a2":0.00304,"b2":0.0061,"c2":0.0092,"A2":0.488,"B2":-0.295,"C2":-0.895,"a3":0.00217,"b3":0.00746,"c3":0.01128,"A3":0.751,"B3":-0.697,"C3":-1.661},
{"x":122,"a1":0.00447,"b1":0.00525,"c1":0.00593,"A1":0.125,"B1":-0.053,"C1":-0.193,"a2":0.00293,"b2":0.00617,"c2":0.00978,"A2":0.51,"B2":-0.302,"C2":-0.931,"a3":0.00201,"b3":0.00749,"c3":0.01221,"A3":0.796,"B3":-0.699,"C3":-1.708},
{"x":123,"a1":0.00445,"b1":0.00526,"c1":0.00597,"A1":0.128,"B1":-0.054,"C1":-0.197,"a2":0.00285,"b2":0.00622,"c2":0.01023,"A2":0.526,"B2":-0.306,"C2":-0.958,"a3":0.0019,"b3":0.00749,"c3":0.01294,"A3":0.83,"B3":-0.7,"C3":-1.742},
{"x":124,"a1":0.00443,"b1":0.00527,"c1":0.006,"A1":0.13,"B1":-0.055,"C1":-0.199,"a2":0.0028,"b2":0.00625,"c2":0.01052,"A2":0.537,"B2":-0.309,"C2":-0.974,"a3":0.00183,"b3":0.0075,"c3":0.01341,"A3":0.852,"B3":-0.7,"C3":-1.763},
{"x":125,"a1":0.00443,"b1":0.00527,"c1":0.006,"A1":0.13,"B1":-0.055,"C1":-0.2,"a2":0.00278,"b2":0.00626,"c2":0.01062,"A2":0.54,"B2":-0.31,"C2":-0.98,"a3":0.00181,"b3":0.0075,"c3":0.01356,"A3":0.86,"B3":-0.7,"C3":-1.77},
{"x":126,"a1":0.00443,"b1":0.00527,"c1":0.006,"A1":0.13,"B1":-0.055,"C1":-0.199,"a2":0.0028,"b2":0.00625,"c2":0.01052,"A2":0.537,"B2":-0.309,"C2":-0.974,"a3":0.00183,"b3":0.0075,"c3":0.01341,"A3":0.852,"B3":-0.7,"C3":-1.763},
{"x":127,"a1":0.00445,"b1":0.00526,"c1":0.00597,"A1":0.128,"B1":-0.054,"C1":-0.197,"a2":0.00285,"b2":0.00622,"c2":0.01023,"A2":0.526,"B2":-0.306,"C2":-0.958,"a3":0.0019,"b3":0.00749,"c3":0.01294,"A3":0.83,"B3":-0.7,"C3":-1.742},
{"x":128,"a1":0.00447,"b1":0.00525,"c1":0.00593,"A1":0.125,"B1":-0.053,"C1":-0.193,"a2":0.00293,"b2":0.00617,"c2":0.00978,"A2":0.51,"B2":-0.302,"C2":-0.931,"a3":0.00201,"b3":0.00749,"c3":0.01221,"A3":0.796,"B3":-0.699,"C3":-1.708},
{"x":129,"a1":0.0045,"b1":0.00524,"c1":0.00588,"A1":0.121,"B1":-0.052,"C1":-0.188,"a2":0.00304,"b2":0.0061,"c2":0.0092,"A2":0.488,"B2":-0.295,"C2":-0.895,"a3":0.00217,"b3":0.00746,"c3":0.01128,"A3":0.751,"B3":-0.697,"C3":-1.661},
{"x":130,"a1":0.00453,"b1":0.00523,"c1":0.00581,"A1":0.116,"B1":-0.05,"C1":-0.181,"a2":0.00318,"b2":0.00601,"c2":0.00854,"A2":0.461,"B2":-0.287,"C2":-0.851,"a3":0.00237,"b3":0.00742,"c3":0.0102,"A3":0.699,"B3":-0.694,"C3":-1.601},
{"x":131,"a1":0.00458,"b1":0.00521,"c1":0.00574,"A1":0.111,"B1":-0.048,"C1":-0.173,"a2":0.00334,"b2":0.00591,"c2":0.00784,"A2":0.431,"B2":-0.276,"C2":-0.8,"a3":0.00261,"b3":0.00733,"c3":0.00905,"A3":0.643,"B3":-0.687,"C3":-1.53},
{"x":132,"a1":0.00463,"b1":0.00518,"c1":0.00565,"A1":0.104,"B1":-0.045,"C1":-0.164,"a2":0.00353,"b2":0.00579,"c2":0.00714,"A2":0.399,"B2":-0.265,"C2":-0.744,"a3":0.00288,"b3":0.00721,"c3":0.00789,"A3":0.584,"B3":-0.677,"C3":-1.449},
{"x":133,"a1":0.00468,"b1":0.00516,"c1":0.00555,"A1":0.097,"B1":-0.043,"C1":-0.154,"a2":0.00374,"b2":0.00566,"c2":0.00645,"A2":0.364,"B2":-0.251,"C2":-0.685,"a3":0.00318,"b3":0.00703,"c3":0.00678,"A3":0.525,"B3":-0.662,"C3":-1.359},
{"x":134,"a1":0.00474,"b1":0.00514,"c1":0.00545,"A1":0.09,"B1":-0.04,"C1":-0.143,"a2":0.00397,"b2":0.00552,"c2":0.00581,"A2":0.329,"B2":-0.236,"C2":-0.623,"a3":0.0035,"b3":0.0068,"c3":0.00575,"A3":0.468,"B3":-0.642,"C3":-1.262},
{"x":135,"a1":0.0048,"b1":0.00511,"c1":0.00534,"A1":0.082,"B1":-0.037,"C1":-0.131,"a2":0.00421,"b2":0.00538,"c2":0.00523,"A2":0.294,"B2":-0.22,"C2":-0.56,"a3":0.00385,"b3":0.00651,"c3":0.00483,"A3":0.412,"B3":-0.616,"C3":-1.158},
{"x":136,"a1":0.00487,"b1":0.00508,"c1":0.00524,"A1":0.074,"B1":-0.033,"C1":-0.119,"a2":0.00446,"b2":0.00522,"c2":0.00471,"A2":0.26,"B2":-0.203,"C2":-0.498,"a3":0.00421,"b3":0.00617,"c3":0.00403,"A3":0.359,"B3":-0.584,"C3":-1.051},
{"x":137,"a1":0.00494,"b1":0.00505,"c1":0.00513,"A1":0.066,"B1":-0.03,"C1":-0.106,"a2":0.00472,"b2":0.00506,"c2":0.00424,"A2":0.227,"B2":-0.185,"C2":-0.437,"a3":0.00458,"b3":0.00578,"c3":0.00335,"A3":0.31,"B3":-0.546,"C3":-0.941},
{"x":138,"a1":0.00501,"b1":0.00502,"c1":0.00502,"A1":0.057,"B1":-0.026,"C1":-0.094,"a2":0.00498,"b2":0.0049,"c2":0.00384,"A2":0.195,"B2":-0.166,"C2":-0.377,"a3":0.00495,"b3":0.00537,"c3":0.00277,"A3":0.263,"B3":-0.502,"C3":-0.829},
{"x":139,"a1":0.00507,"b1":0.00499,"c1":0.00491,"A1":0.049,"B1":-0.023,"C1":-0.081,"a2":0.00524,"b2":0.00474,"c2":0.00349,"A2":0.165,"B2":-0.146,"C2":-0.321,"a3":0.00531,"b3":0.00494,"c3":0.0023,"A3":0.221,"B3":-0.453,"C3":-0.719},
{"x":140,"a1":0.00514,"b1":0.00496,"c1":0.00481,"A1":0.042,"B1":-0.02,"C1":-0.069,"a2":0.00549,"b2":0.00459,"c2":0.00319,"A2":0.137,"B2":-0.126,"C2":-0.268,"a3":0.00567,"b3":0.00452,"c3":0.00192,"A3":0.182,"B3":-0.4,"C3":-0.612},
{"x":141,"a1":0.0052,"b1":0.00494,"c1":0.00472,"A1":0.035,"B1":-0.016,"C1":-0.057,"a2":0.00573,"b2":0.00444,"c2":0.00294,"A2":0.112,"B2":-0.107,"C2":-0.219,"a3":0.00602,"b3":0.00411,"c3":0.00161,"A3":0.147,"B3":-0.344,"C3":-0.508},
{"x":142,"a1":0.00526,"b1":0.00491,"c1":0.00463,"A1":0.028,"B1":-0.013,"C1":-0.046,"a2":0.00596,"b2":0.0043,"c2":0.00273,"A2":0.089,"B2":-0.088,"C2":-0.174,"a3":0.00634,"b3":0.00373,"c3":0.00137,"A3":0.116,"B3":-0.287,"C3":-0.411},
{"x":143,"a1":0.00532,"b1":0.00489,"c1":0.00455,"A1":0.022,"B1":-0.01,"C1":-0.036,"a2":0.00617,"b2":0.00417,"c2":0.00255,"A2":0.068,"B2":-0.07,"C2":-0.134,"a3":0.00664,"b3":0.0034,"c3":0.00118,"A3":0.089,"B3":-0.231,"C3":-0.321},
{"x":144,"a1":0.00537,"b1":0.00487,"c1":0.00449,"A1":0.016,"B1":-0.008,"C1":-0.027,"a2":0.00636,"b2":0.00405,"c2":0.0024,"A2":0.05,"B2":-0.053,"C2":-0.099,"a3":0.00691,"b3":0.0031,"c3":0.00103,"A3":0.065,"B3":-0.177,"C3":-0.24},
{"x":145,"a1":0.00541,"b1":0.00485,"c1":0.00442,"A1":0.011,"B1":-0.006,"C1":-0.019,"a2":0.00652,"b2":0.00395,"c2":0.00228,"A2":0.035,"B2":-0.038,"C2":-0.069,"a3":0.00715,"b3":0.00285,"c3":0.00091,"A3":0.045,"B3":-0.127,"C3":-0.169},
{"x":146,"a1":0.00545,"b1":0.00483,"c1":0.00437,"A1":0.007,"B1":-0.004,"C1":-0.012,"a2":0.00666,"b2":0.00386,"c2":0.00219,"A2":0.022,"B2":-0.025,"C2":-0.044,"a3":0.00735,"b3":0.00265,"c3":0.00082,"A3":0.029,"B3":-0.084,"C3":-0.109},
{"x":147,"a1":0.00548,"b1":0.00482,"c1":0.00434,"A1":0.004,"B1":-0.002,"C1":-0.007,"a2":0.00677,"b2":0.0038,"c2":0.00212,"A2":0.013,"B2":-0.014,"C2":-0.025,"a3":0.00751,"b3":0.0025,"c3":0.00076,"A3":0.016,"B3":-0.048,"C3":-0.062},
{"x":148,"a1":0.0055,"b1":0.00481,"c1":0.00431,"A1":0.002,"B1":-0.001,"C1":-0.003,"a2":0.00685,"b2":0.00375,"c2":0.00207,"A2":0.006,"B2":-0.006,"C2":-0.011,"a3":0.00762,"b3":0.00239,"c3":0.00072,"A3":0.007,"B3":-0.022,"C3":-0.028},
{"x":149,"a1":0.00551,"b1":0.0048,"c1":0.00429,"A1":0,"B1":0,"C1":-0.001,"a2":0.0069,"b2":0.00372,"c2":0.00204,"A2":0.001,"B2":-0.002,"C2":-0.003,"a3":0.00769,"b3":0.00232,"c3":0.00069,"A3":0.002,"B3":-0.006,"C3":-0.007},
{"x":150,"a1":0.00552,"b1":0.0048,"c1":0.00428,"A1":0,"B1":0,"C1":0,"a2":0.00692,"b2":0.00371,"c2":0.00203,"A2":0,"B2":0,"C2":0,"a3":0.00772,"b3":0.0023,"c3":0.00068,"A3":0,"B3":0,"C3":0},
{"x":151,"a1":0.00551,"b1":0.0048,"c1":0.00429,"A1":0,"B1":0,"C1":-0.001,"a2":0.0069,"b2":0.00372,"c2":0.00204,"A2":0.001,"B2":-0.002,"C2":-0.003,"a3":0.00769,"b3":0.00232,"c3":0.00069,"A3":0.002,"B3":-0.006,"C3":-0.007},
{"x":152,"a1":0.0055,"b1":0.00481,"c1":0.00431,"A1":0.002,"B1":-0.001,"C1":-0.003,"a2":0.00685,"b2":0.00375,"c2":0.00207,"A2":0.006,"B2":-0.006,"C2":-0.011,"a3":0.00762,"b3":0.00239,"c3":0.00072,"A3":0.007,"B3":-0.022,"C3":-0.028},
{"x":153,"a1":0.00548,"b1":0.00482,"c1":0.00434,"A1":0.004,"B1":-0.002,"C1":-0.007,"a2":0.00677,"b2":0.0038,"c2":0.00212,"A2":0.013,"B2":-0.014,"C2":-0.025,"a3":0.00751,"b3":0.0025,"c3":0.00076,"A3":0.016,"B3":-0.048,"C3":-0.062},
{"x":154,"a1":0.00545,"b1":0.00483,"c1":0.00437,"A1":0.007,"B1":-0.004,"C1":-0.012,"a2":0.00666,"b2":0.00386,"c2":0.00219,"A2":0.022,"B2":-0.025,"C2":-0.044,"a3":0.00735,"b3":0.00265,"c3":0.00082,"A3":0.029,"B3":-0.084,"C3":-0.109},
{"x":155,"a1":0.00541,"b1":0.00485,"c1":0.00442,"A1":0.011,"B1":-0.006,"C1":-0.019,"a2":0.00652,"b2":0.00395,"c2":0.00228,"A2":0.035,"B2":-0.038,"C2":-0.069,"a3":0.00715,"b3":0.00285,"c3":0.00091,"A3":0.045,"B3":-0.127,"C3":-0.169},
{"x":156,"a1":0.00537,"b1":0.00487,"c1":0.00449,"A1":0.016,"B1":-0.008,"C1":-0.027,"a2":0.00636,"b2":0.00405,"c2":0.0024,"A2":0.05,"B2":-0.053,"C2":-0.099,"a3":0.00691,"b3":0.0031,"c3":0.00103,"A3":0.065,"B3":-0.177,"C3":-0.24},
{"x":157,"a1":0.00532,"b1":0.00489,"c1":0.00455,"A1":0.022,"B1":-0.01,"C1":-0.036,"a2":0.00617,"b2":0.00417,"c2":0.00255,"A2":0.068,"B2":-0.07,"C2":-0.134,"a3":0.00664,"b3":0.0034,"c3":0.00118,"A3":0.089,"B3":-0.231,"C3":-0.321},
{"x":158,"a1":0.00526,"b1":0.00491,"c1":0.00463,"A1":0.028,"B1":-0.013,"C1":-0.046,"a2":0.00596,"b2":0.0043,"c2":0.00273,"A2":0.089,"B2":-0.088,"C2":-0.174,"a3":0.00634,"b3":0.00373,"c3":0.00137,"A3":0.116,"B3":-0.287,"C3":-0.411},
{"x":159,"a1":0.0052,"b1":0.00494,"c1":0.00472,"A1":0.035,"B1":-0.016,"C1":-0.057,"a2":0.00573,"b2":0.00444,"c2":0.00294,"A2":0.112,"B2":-0.107,"C2":-0.219,"a3":0.00602,"b3":0.00411,"c3":0.00161,"A3":0.147,"B3":-0.344,"C3":-0.508},
{"x":160,"a1":0.00514,"b1":0.00496,"c1":0.00481,"A1":0.042,"B1":-0.02,"C1":-0.069,"a2":0.00549,"b2":0.00459,"c2":0.00319,"A2":0.137,"B2":-0.126,"C2":-0.268,"a3":0.00567,"b3":0.00452,"c3":0.00192,"A3":0.182,"B3":-0.4,"C3":-0.612},
{"x":161,"a1":0.00507,"b1":0.00499,"c1":0.00491,"A1":0.049,"B1":-0.023,"C1":-0.081,"a2":0.00524,"b2":0.00474,"c2":0.00349,"A2":0.165,"B2":-0.146,"C2":-0.321,"a3":0.00531,"b3":0.00494,"c3":0.0023,"A3":0.221,"B3":-0.453,"C3":-0.719},
{"x":162,"a1":0.00501,"b1":0.00502,"c1":0.00502,"A1":0.057,"B1":-0.026,"C1":-0.094,"a2":0.00498,"b2":0.0049,"c2":0.00384,"A2":0.195,"B2":-0.166,"C2":-0.377,"a3":0.00495,"b3":0.00537,"c3":0.00277,"A3":0.263,"B3":-0.502,"C3":-0.829},
{"x":163,"a1":0.00494,"b1":0.00505,"c1":0.00513,"A1":0.066,"B1":-0.03,"C1":-0.106,"a2":0.00472,"b2":0.00506,"c2":0.00424,"A2":0.227,"B2":-0.185,"C2":-0.437,"a3":0.00458,"b3":0.00578,"c3":0.00335,"A3":0.31,"B3":-0.546,"C3":-0.941},
{"x":164,"a1":0.00487,"b1":0.00508,"c1":0.00524,"A1":0.074,"B1":-0.033,"C1":-0.119,"a2":0.00446,"b2":0.00522,"c2":0.00471,"A2":0.26,"B2":-0.203,"C2":-0.498,"a3":0.00421,"b3":0.00617,"c3":0.00403,"A3":0.359,"B3":-0.584,"C3":-1.051},
{"x":165,"a1":0.0048,"b1":0.00511,"c1":0.00534,"A1":0.082,"B1":-0.037,"C1":-0.131,"a2":0.00421,"b2":0.00538,"c2":0.00523,"A2":0.294,"B2":-0.22,"C2":-0.56,"a3":0.00385,"b3":0.00651,"c3":0.00483,"A3":0.412,"B3":-0.616,"C3":-1.158},
{"x":166,"a1":0.00474,"b1":0.00514,"c1":0.00545,"A1":0.09,"B1":-0.04,"C1":-0.143,"a2":0.00397,"b2":0.00552,"c2":0.00581,"A2":0.329,"B2":-0.236,"C2":-0.623,"a3":0.0035,"b3":0.0068,"c3":0.00575,"A3":0.468,"B3":-0.642,"C3":-1.262},
{"x":167,"a1":0.00468,"b1":0.00516,"c1":0.00555,"A1":0.097,"B1":-0.043,"C1":-0.154,"a2":0.00374,"b2":0.00566,"c2":0.00645,"A2":0.364,"B2":-0.251,"C2":-0.685,"a3":0.00318,"b3":0.00703,"c3":0.00678,"A3":0.525,"B3":-0.662,"C3":-1.359},
{"x":168,"a1":0.00463,"b1":0.00518,"c1":0.00565,"A1":0.104,"B1":-0.045,"C1":-0.164,"a2":0.00353,"b2":0.00579,"c2":0.00714,"A2":0.399,"B2":-0.265,"C2":-0.744,"a3":0.00288,"b3":0.00721,"c3":0.00789,"A3":0.584,"B3":-0.677,"C3":-1.449},
{"x":169,"a1":0.00458,"b1":0.00521,"c1":0.00574,"A1":0.111,"B1":-0.048,"C1":-0.173,"a2":0.00334,"b2":0.00591,"c2":0.00784,"A2":0.431,"B2":-0.276,"C2":-0.8,"a3":0.00261,"b3":0.00733,"c3":0.00905,"A3":0.643,"B3":-0.687,"C3":-1.53},
{"x":170,"a1":0.00453,"b1":0.00523,"c1":0.00581,"A1":0.116,"B1":-0.05,"C1":-0.181,"a2":0.00318,"b2":0.00601,"c2":0.00854,"A2":0.461,"B2":-0.287,"C2":-0.851,"a3":0.00237,"b3":0.00742,"c3":0.0102,"A3":0.699,"B3":-0.694,"C3":-1.601},
{"x":171,"a1":0.0045,"b1":0.00524,"c1":0.00588,"A1":0.121,"B1":-0.052,"C1":-0.188,"a2":0.00304,"b2":0.0061,"c2":0.0092,"A2":0.488,"B2":-0.295,"C2":-0.895,"a3":0.00217,"b3":0.00746,"c3":0.01128,"A3":0.751,"B3":-0.697,"C3":-1.661},
{"x":172,"a1":0.00447,"b1":0.00525,"c1":0.00593,"A1":0.125,"B1":-0.053,"C1":-0.193,"a2":0.00293,"b2":0.00617,"c2":0.00978,"A2":0.51,"B2":-0.302,"C2":-0.931,"a3":0.00201,"b3":0.00749,"c3":0.01221,"A3":0.796,"B3":-0.699,"C3":-1.708},
{"x":173,"a1":0.00445,"b1":0.00526,"c1":0.00597,"A1":0.128,"B1":-0.054,"C1":-0.197,"a2":0.00285,"b2":0.00622,"c2":0.01023,"A2":0.526,"B2":-0.306,"C2":-0.958,"a3":0.0019,"b3":0.00749,"c3":0.01294,"A3":0.83,"B3":-0.7,"C3":-1.742},
{"x":174,"a1":0.00443,"b1":0.00527,"c1":0.006,"A1":0.13,"B1":-0.055,"C1":-0.199,"a2":0.0028,"b2":0.00625,"c2":0.01052,"A2":0.537,"B2":-0.309,"C2":-0.974,"a3":0.00183,"b3":0.0075,"c3":0.01341,"A3":0.852,"B3":-0.7,"C3":-1.763},
{"x":175,"a1":0.00443,"b1":0.00527,"c1":0.006,"A1":0.13,"B1":-0.055,"C1":-0.2,"a2":0.00278,"b2":0.00626,"c2":0.01062,"A2":0.54,"B2":-0.31,"C2":-0.98,"a3":0.00181,"b3":0.0075,"c3":0.01356,"A3":0.86,"B3":-0.7,"C3":-1.77},
{"x":176,"a1":0.00443,"b1":0.00527,"c1":0.006,"A1":0.13,"B1":-0.055,"C1":-0.199,"a2":0.0028,"b2":0.00625,"c2":0.01052,"A2":0.537,"B2":-0.309,"C2":-0.974,"a3":0.00183,"b3":0.0075,"c3":0.01341,"A3":0.852,"B3":-0.7,"C3":-1.763},
{"x":177,"a1":0.00445,"b1":0.00526,"c1":0.00597,"A1":0.128,"B1":-0.054,"C1":-0.197,"a2":0.00285,"b2":0.00622,"c2":0.01023,"A2":0.526,"B2":-0.306,"C2":-0.958,"a3":0.0019,"b3":0.00749,"c3":0.01294,"A3":0.83,"B3":-0.7,"C3":-1.742},
{"x":178,"a1":0.00447,"b1":0.00525,"c1":0.00593,"A1":0.125,"B1":-0.053,"C1":-0.193,"a2":0.00293,"b2":0.00617,"c2":0.00978,"A2":0.51,"B2":-0.302,"C2":-0.931,"a3":0.00201,"b3":0.00749,"c3":0.01221,"A3":0.796,"B3":-0.699,"C3":-1.708},
{"x":179,"a1":0.0045,"b1":0.00524,"c1":0.00588,"A1":0.121,"B1":-0.052,"C1":-0.188,"a2":0.00304,"b2":0.0061,"c2":0.0092,"A2":0.488,"B2":-0.295,"C2":-0.895,"a3":0.00217,"b3":0.00746,"c3":0.01128,"A3":0.751,"B3":-0.697,"C3":-1.661},
{"x":180,"a1":0.00453,"b1":0.00523,"c1":0.00581,"A1":0.116,"B1":-0.05,"C1":-0.181,"a2":0.00318,"b2":0.00601,"c2":0.00854,"A2":0.461,"B2":-0.287,"C2":-0.851,"a3":0.00237,"b3":0.00742,"c3":0.0102,"A3":0.699,"B3":-0.694,"C3":-1.601},
{"x":181,"a1":0.00458,"b1":0.00521,"c1":0.00574,"A1":0.111,"B1":-0.048,"C1":-0.173,"a2":0.00334,"b2":0.00591,"c2":0.00784,"A2":0.431,"B2":-0.276,"C2":-0.8,"a3":0.00261,"b3":0.00733,"c3":0.00905,"A3":0.643,"B3":-0.687,"C3":-1.53},
{"x":182,"a1":0.00463,"b1":0.00518,"c1":0.00565,"A1":0.104,"B1":-0.045,"C1":-0.164,"a2":0.00353,"b2":0.00579,"c2":0.00714,"A2":0.399,"B2":-0.265,"C2":-0.744,"a3":0.00288,"b3":0.00721,"c3":0.00789,"A3":0.584,"B3":-0.677,"C3":-1.449},
{"x":183,"a1":0.00468,"b1":0.00516,"c1":0.00555,"A1":0.097,"B1":-0.043,"C1":-0.154,"a2":0.00374,"b2":0.00566,"c2":0.00645,"A2":0.364,"B2":-0.251,"C2":-0.685,"a3":0.00318,"b3":0.00703,"c3":0.00678,"A3":0.525,"B3":-0.662,"C3":-1.359},
{"x":184,"a1":0.00474,"b1":0.00514,"c1":0.00545,"A1":0.09,"B1":-0.04,"C1":-0.143,"a2":0.00397,"b2":0.00552,"c2":0.00581,"A2":0.329,"B2":-0.236,"C2":-0.623,"a3":0.0035,"b3":0.0068,"c3":0.00575,"A3":0.468,"B3":-0.642,"C3":-1.262},
{"x":185,"a1":0.0048,"b1":0.00511,"c1":0.00534,"A1":0.082,"B1":-0.037,"C1":-0.131,"a2":0.00421,"b2":0.00538,"c2":0.00523,"A2":0.294,"B2":-0.22,"C2":-0.56,"a3":0.00385,"b3":0.00651,"c3":0.00483,"A3":0.412,"B3":-0.616,"C3":-1.158},
{"x":186,"a1":0.00487,"b1":0.00508,"c1":0.00524,"A1":0.074,"B1":-0.033,"C1":-0.119,"a2":0.00446,"b2":0.00522,"c2":0.00471,"A2":0.26,"B2":-0.203,"C2":-0.498,"a3":0.00421,"b3":0.00617,"c3":0.00403,"A3":0.359,"B3":-0.584,"C3":-1.051},
{"x":187,"a1":0.00494,"b1":0.00505,"c1":0.00513,"A1":0.066,"B1":-0.03,"C1":-0.106,"a2":0.00472,"b2":0.00506,"c2":0.00424,"A2":0.227,"B2":-0.185,"C2":-0.437,"a3":0.00458,"b3":0.00578,"c3":0.00335,"A3":0.31,"B3":-0.546,"C3":-0.941},
{"x":188,"a1":0.00501,"b1":0.00502,"c1":0.00502,"A1":0.057,"B1":-0.026,"C1":-0.094,"a2":0.00498,"b2":0.0049,"c2":0.00384,"A2":0.195,"B2":-0.166,"C2":-0.377,"a3":0.00495,"b3":0.00537,"c3":0.00277,"A3":0.263,"B3":-0.502,"C3":-0.829},
{"x":189,"a1":0.00507,"b1":0.00499,"c1":0.00491,"A1":0.049,"B1":-0.023,"C1":-0.081,"a2":0.00524,"b2":0.00474,"c2":0.00349,"A2":0.165,"B2":-0.146,"C2":-0.321,"a3":0.00531,"b3":0.00494,"c3":0.0023,"A3":0.221,"B3":-0.453,"C3":-0.719},
{"x":190,"a1":0.00514,"b1":0.00496,"c1":0.00481,"A1":0.042,"B1":-0.02,"C1":-0.069,"a2":0.00549,"b2":0.00459,"c2":0.00319,"A2":0.137,"B2":-0.126,"C2":-0.268,"a3":0.00567,"b3":0.00452,"c3":0.00192,"A3":0.182,"B3":-0.4,"C3":-0.612},
{"x":191,"a1":0.0052,"b1":0.00494,"c1":0.00472,"A1":0.035,"B1":-0.016,"C1":-0.057,"a2":0.00573,"b2":0.00444,"c2":0.00294,"A2":0.112,"B2":-0.107,"C2":-0.219,"a3":0.00602,"b3":0.00411,"c3":0.00161,"A3":0.147,"B3":-0.344,"C3":-0.508},
{"x":192,"a1":0.00526,"b1":0.00491,"c1":0.00463,"A1":0.028,"B1":-0.013,"C1":-0.046,"a2":0.00596,"b2":0.0043,"c2":0.00273,"A2":0.089,"B2":-0.088,"C2":-0.174,"a3":0.00634,"b3":0.00373,"c3":0.00137,"A3":0.116,"B3":-0.287,"C3":-0.411},
{"x":193,"a1":0.00532,"b1":0.00489,"c1":0.00455,"A1":0.022,"B1":-0.01,"C1":-0.036,"a2":0.00617,"b2":0.00417,"c2":0.00255,"A2":0.068,"B2":-0.07,"C2":-0.134,"a3":0.00664,"b3":0.0034,"c3":0.00118,"A3":0.089,"B3":-0.231,"C3":-0.321},
{"x":194,"a1":0.00537,"b1":0.00487,"c1":0.00449,"A1":0.016,"B1":-0.008,"C1":-0.027,"a2":0.00636,"b2":0.00405,"c2":0.0024,"A2":0.05,"B2":-0.053,"C2":-0.099,"a3":0.00691,"b3":0.0031,"c3":0.00103,"A3":0.065,"B3":-0.177,"C3":-0.24},
{"x":195,"a1":0.00541,"b1":0.00485,"c1":0.00442,"A1":0.011,"B1":-0.006,"C1":-0.019,"a2":0.00652,"b2":0.00395,"c2":0.00228,"A2":0.035,"B2":-0.038,"C2":-0.069,"a3":0.00715,"b3":0.00285,"c3":0.00091,"A3":0.045,"B3":-0.127,"C3":-0.169},
{"x":196,"a1":0.00545,"b1":0.00483,"c1":0.00437,"A1":0.007,"B1":-0.004,"C1":-0.012,"a2":0.00666,"b2":0.00386,"c2":0.00219,"A2":0.022,"B2":-0.025,"C2":-0.044,"a3":0.00735,"b3":0.00265,"c3":0.00082,"A3":0.029,"B3":-0.084,"C3":-0.109},
{"x":197,"a1":0.00548,"b1":0.00482,"c1":0.00434,"A1":0.004,"B1":-0.002,"C1":-0.007,"a2":0.00677,"b2":0.0038,"c2":0.00212,"A2":0.013,"B2":-0.014,"C2":-0.025,"a3":0.00751,"b3":0.0025,"c3":0.00076,"A3":0.016,"B3":-0.048,"C3":-0.062},
{"x":198,"a1":0.0055,"b1":0.00481,"c1":0.00431,"A1":0.002,"B1":-0.001,"C1":-0.003,"a2":0.00685,"b2":0.00375,"c2":0.00207,"A2":0.006,"B2":-0.006,"C2":-0.011,"a3":0.00762,"b3":0.00239,"c3":0.00072,"A3":0.007,"B3":-0.022,"C3":-0.028},
{"x":199,"a1":0.00551,"b1":0.0048,"c1":0.00429,"A1":0,"B1":0,"C1":-0.001,"a2":0.0069,"b2":0.00372,"c2":0.00204,"A2":0.001,"B2":-0.002,"C2":-0.003,"a3":0.00769,"b3":0.00232,"c3":0.00069,"A3":0.002,"B3":-0.006,"C3":-0.007},
{"x":200,"a1":0.00552,"b1":0.0048,"c1":0.00428,"A1":0,"B1":0,"C1":0,"a2":0.00692,"b2":0.00371,"c2":0.00203,"A2":0,"B2":0,"C2":0,"a3":0.00772,"b3":0.0023,"c3":0.00068,"A3":0,"B3":0,"C3":0}
]},
"concat":[
{"width":406,"height":439,"data":{"name":"d"},"transform":[{"fold":["c1","b1","a1"],"as":["k","v"]}],
"encoding":{"x":{"field":"x","type":"quantitative","scale":{"domain":[0,209.5],"nice":false,"zero":false},"axis":{"title":"depth[Å]","values":[0,20,40,60,80,100,120,140,160,180,200],"format":"d"}},
"y":{"field":"v","type":"quantitative","scale":{"domain":[0,0.015],"nice":false,"zero":false},"axis":{"title":"relative probability","values":[0,0.001,0.002,0.003,0.004,0.005,0.006,0.007,0.008,0.009,0.01,0.011,0.012,0.013,0.014,0.015],"format":".3f"}},
"color":{"field":"k","type":"nominal","scale":{"domain":["c1","b1","a1"],"range":["#ff5555","#5555ff","#55ff55"]},"legend":{"title":null,"legendX":420,"legendY":213,"labelExpr":"substring(lower(datum.label),0,1)=='c' ? 'h2o_c0.cosmo' : substring(lower(datum.label),0,1)=='b' ? 'ethanol_c0.cosmo' : 'anisole_c0.cosmo'","encode":{"symbols":{"update":{"shape":{"signal":"substring(lower(datum.value),0,1)=='a' ? 'M-1,0L1,0M0.4,0A0.4,0.4,0,1,1,-0.4,0A0.4,0.4,0,1,1,0.4,0Z' : 'M-1,0L1,0M-0.36,-0.36L0.36,-0.36L0.36,0.36L-0.36,0.36Z'"},"stroke":{"signal":"substring(lower(datum.value),0,1)=='c' ? '#ff5555' : substring(lower(datum.value),0,1)=='b' ? '#5555ff' : '#55ff55'"},"strokeWidth":{"value":1},"opacity":{"value":1}}}}}}},
"layer":[{"mark":{"type":"line","strokeWidth":1},"encoding":{}},
{"mark":{"type":"point","filled":true,"opacity":1,"size":32},"encoding":{"shape":{"condition":{"test":"substring(lower(datum.k),0,1)=='a'","value":"circle"},"value":"square"},"order":{"field":"k","type":"ordinal","sort":"ascending"}}}]},
{"width":417,"height":439,"data":{"name":"d"},"transform":[{"fold":["C1","B1","A1"],"as":["k","v"]}],
"encoding":{"x":{"field":"x","type":"quantitative","scale":{"domain":[0,209.5],"nice":false,"zero":false},"axis":{"title":"depth[Å]","values":[0,20,40,60,80,100,120,140,160,180,200],"format":"d"}},
"y":{"field":"v","type":"quantitative","scale":{"domain":[-2,1],"nice":false,"zero":false},"axis":{"title":"ΔG","values":[-2,-1.8,-1.6,-1.4,-1.2,-1,-0.8,-0.6,-0.4,-0.2,0,0.2,0.4,0.6,0.8,1],"labelExpr":"datum.value < -0.00001 ? '-' + format(-datum.value, '.1f') : format(datum.value, '.1f')"}},
"color":{"field":"k","type":"nominal","scale":{"domain":["C1","B1","A1"],"range":["#ff5555","#5555ff","#55ff55"]},"legend":{"title":null,"legendX":429,"legendY":213,"labelExpr":"substring(lower(datum.label),0,1)=='c' ? 'h2o_c0.cosmo' : substring(lower(datum.label),0,1)=='b' ? 'ethanol_c0.cosmo' : 'anisole_c0.cosmo'","encode":{"symbols":{"update":{"shape":{"signal":"substring(lower(datum.value),0,1)=='a' ? 'M-1,0L1,0M0.4,0A0.4,0.4,0,1,1,-0.4,0A0.4,0.4,0,1,1,0.4,0Z' : 'M-1,0L1,0M-0.36,-0.36L0.36,-0.36L0.36,0.36L-0.36,0.36Z'"},"stroke":{"signal":"substring(lower(datum.value),0,1)=='c' ? '#ff5555' : substring(lower(datum.value),0,1)=='b' ? '#5555ff' : '#55ff55'"},"strokeWidth":{"value":1},"opacity":{"value":1}}}}}}},
"layer":[{"mark":{"type":"line","strokeWidth":1},"encoding":{}},
{"mark":{"type":"point","filled":true,"opacity":1,"size":32},"encoding":{"shape":{"condition":{"test":"substring(lower(datum.k),0,1)=='a'","value":"circle"},"value":"square"},"order":{"field":"k","type":"ordinal","sort":"ascending"}}}]},
{"width":406,"height":439,"data":{"name":"d"},"transform":[{"fold":["c2","b2","a2"],"as":["k","v"]}],
"encoding":{"x":{"field":"x","type":"quantitative","scale":{"domain":[0,209.5],"nice":false,"zero":false},"axis":{"title":"depth[Å]","values":[0,20,40,60,80,100,120,140,160,180,200],"format":"d"}},
"y":{"field":"v","type":"quantitative","scale":{"domain":[0,0.015],"nice":false,"zero":false},"axis":{"title":"relative probability","values":[0,0.001,0.002,0.003,0.004,0.005,0.006,0.007,0.008,0.009,0.01,0.011,0.012,0.013,0.014,0.015],"format":".3f"}},
"color":{"field":"k","type":"nominal","scale":{"domain":["c2","b2","a2"],"range":["#ff5555","#5555ff","#55ff55"]},"legend":{"title":null,"legendX":420,"legendY":213,"labelExpr":"substring(lower(datum.label),0,1)=='c' ? 'h2o_c0.cosmo' : substring(lower(datum.label),0,1)=='b' ? 'ethanol_c0.cosmo' : 'anisole_c0.cosmo'","encode":{"symbols":{"update":{"shape":{"signal":"substring(lower(datum.value),0,1)=='a' ? 'M-1,0L1,0M0.4,0A0.4,0.4,0,1,1,-0.4,0A0.4,0.4,0,1,1,0.4,0Z' : 'M-1,0L1,0M-0.36,-0.36L0.36,-0.36L0.36,0.36L-0.36,0.36Z'"},"stroke":{"signal":"substring(lower(datum.value),0,1)=='c' ? '#ff5555' : substring(lower(datum.value),0,1)=='b' ? '#5555ff' : '#55ff55'"},"strokeWidth":{"value":1},"opacity":{"value":1}}}}}}},
"layer":[{"mark":{"type":"line","strokeWidth":1},"encoding":{}},
{"mark":{"type":"point","filled":true,"opacity":1,"size":32},"encoding":{"shape":{"condition":{"test":"substring(lower(datum.k),0,1)=='a'","value":"circle"},"value":"square"},"order":{"field":"k","type":"ordinal","sort":"ascending"}}}]},
{"width":417,"height":439,"data":{"name":"d"},"transform":[{"fold":["C2","B2","A2"],"as":["k","v"]}],
"encoding":{"x":{"field":"x","type":"quantitative","scale":{"domain":[0,209.5],"nice":false,"zero":false},"axis":{"title":"depth[Å]","values":[0,20,40,60,80,100,120,140,160,180,200],"format":"d"}},
"y":{"field":"v","type":"quantitative","scale":{"domain":[-2,1],"nice":false,"zero":false},"axis":{"title":"ΔG","values":[-2,-1.8,-1.6,-1.4,-1.2,-1,-0.8,-0.6,-0.4,-0.2,0,0.2,0.4,0.6,0.8,1],"labelExpr":"datum.value < -0.00001 ? '-' + format(-datum.value, '.1f') : format(datum.value, '.1f')"}},
"color":{"field":"k","type":"nominal","scale":{"domain":["C2","B2","A2"],"range":["#ff5555","#5555ff","#55ff55"]},"legend":{"title":null,"legendX":429,"legendY":213,"labelExpr":"substring(lower(datum.label),0,1)=='c' ? 'h2o_c0.cosmo' : substring(lower(datum.label),0,1)=='b' ? 'ethanol_c0.cosmo' : 'anisole_c0.cosmo'","encode":{"symbols":{"update":{"shape":{"signal":"substring(lower(datum.value),0,1)=='a' ? 'M-1,0L1,0M0.4,0A0.4,0.4,0,1,1,-0.4,0A0.4,0.4,0,1,1,0.4,0Z' : 'M-1,0L1,0M-0.36,-0.36L0.36,-0.36L0.36,0.36L-0.36,0.36Z'"},"stroke":{"signal":"substring(lower(datum.value),0,1)=='c' ? '#ff5555' : substring(lower(datum.value),0,1)=='b' ? '#5555ff' : '#55ff55'"},"strokeWidth":{"value":1},"opacity":{"value":1}}}}}}},
"layer":[{"mark":{"type":"line","strokeWidth":1},"encoding":{}},
{"mark":{"type":"point","filled":true,"opacity":1,"size":32},"encoding":{"shape":{"condition":{"test":"substring(lower(datum.k),0,1)=='a'","value":"circle"},"value":"square"},"order":{"field":"k","type":"ordinal","sort":"ascending"}}}]},
{"width":406,"height":439,"data":{"name":"d"},"transform":[{"fold":["c3","b3","a3"],"as":["k","v"]}],
"encoding":{"x":{"field":"x","type":"quantitative","scale":{"domain":[0,209.5],"nice":false,"zero":false},"axis":{"title":"depth[Å]","values":[0,20,40,60,80,100,120,140,160,180,200],"format":"d"}},
"y":{"field":"v","type":"quantitative","scale":{"domain":[0,0.015],"nice":false,"zero":false},"axis":{"title":"relative probability","values":[0,0.001,0.002,0.003,0.004,0.005,0.006,0.007,0.008,0.009,0.01,0.011,0.012,0.013,0.014,0.015],"format":".3f"}},
"color":{"field":"k","type":"nominal","scale":{"domain":["c3","b3","a3"],"range":["#ff5555","#5555ff","#55ff55"]},"legend":{"title":null,"legendX":420,"legendY":213,"labelExpr":"substring(lower(datum.label),0,1)=='c' ? 'h2o_c0.cosmo' : substring(lower(datum.label),0,1)=='b' ? 'ethanol_c0.cosmo' : 'anisole_c0.cosmo'","encode":{"symbols":{"update":{"shape":{"signal":"substring(lower(datum.value),0,1)=='a' ? 'M-1,0L1,0M0.4,0A0.4,0.4,0,1,1,-0.4,0A0.4,0.4,0,1,1,0.4,0Z' : 'M-1,0L1,0M-0.36,-0.36L0.36,-0.36L0.36,0.36L-0.36,0.36Z'"},"stroke":{"signal":"substring(lower(datum.value),0,1)=='c' ? '#ff5555' : substring(lower(datum.value),0,1)=='b' ? '#5555ff' : '#55ff55'"},"strokeWidth":{"value":1},"opacity":{"value":1}}}}}}},
"layer":[{"mark":{"type":"line","strokeWidth":1},"encoding":{}},
{"mark":{"type":"point","filled":true,"opacity":1,"size":32},"encoding":{"shape":{"condition":{"test":"substring(lower(datum.k),0,1)=='a'","value":"circle"},"value":"square"},"order":{"field":"k","type":"ordinal","sort":"ascending"}}}]},
{"width":417,"height":439,"data":{"name":"d"},"transform":[{"fold":["C3","B3","A3"],"as":["k","v"]}],
"encoding":{"x":{"field":"x","type":"quantitative","scale":{"domain":[0,209.5],"nice":false,"zero":false},"axis":{"title":"depth[Å]","values":[0,20,40,60,80,100,120,140,160,180,200],"format":"d"}},
"y":{"field":"v","type":"quantitative","scale":{"domain":[-2,1],"nice":false,"zero":false},"axis":{"title":"ΔG","values":[-2,-1.8,-1.6,-1.4,-1.2,-1,-0.8,-0.6,-0.4,-0.2,0,0.2,0.4,0.6,0.8,1],"labelExpr":"datum.value < -0.00001 ? '-' + format(-datum.value, '.1f') : format(datum.value, '.1f')"}},
"color":{"field":"k","type":"nominal","scale":{"domain":["C3","B3","A3"],"range":["#ff5555","#5555ff","#55ff55"]},"legend":{"title":null,"legendX":429,"legendY":213,"labelExpr":"substring(lower(datum.label),0,1)=='c' ? 'h2o_c0.cosmo' : substring(lower(datum.label),0,1)=='b' ? 'ethanol_c0.cosmo' : 'anisole_c0.cosmo'","encode":{"symbols":{"update":{"shape":{"signal":"substring(lower(datum.value),0,1)=='a' ? 'M-1,0L1,0M0.4,0A0.4,0.4,0,1,1,-0.4,0A0.4,0.4,0,1,1,0.4,0Z' : 'M-1,0L1,0M-0.36,-0.36L0.36,-0.36L0.36,0.36L-0.36,0.36Z'"},"stroke":{"signal":"substring(lower(datum.value),0,1)=='c' ? '#ff5555' : substring(lower(datum.value),0,1)=='b' ? '#5555ff' : '#55ff55'"},"strokeWidth":{"value":1},"opacity":{"value":1}}}}}}},
"layer":[{"mark":{"type":"line","strokeWidth":1},"encoding":{}},
{"mark":{"type":"point","filled":true,"opacity":1,"size":32},"encoding":{"shape":{"condition":{"test":"substring(lower(datum.k),0,1)=='a'","value":"circle"},"value":"square"},"order":{"field":"k","type":"ordinal","sort":"ascending"}}}]}
]
}
